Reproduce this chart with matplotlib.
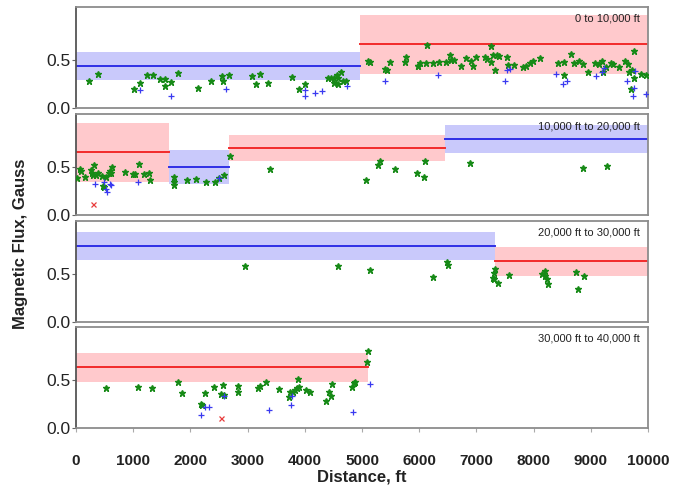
import matplotlib
matplotlib.use("Agg")
import matplotlib.pyplot as plt

# ---------------- data ----------------
panel_titles = ["0 to 10,000 ft", "10,000 ft to 20,000 ft",
                "20,000 ft to 30,000 ft", "30,000 ft to 40,000 ft"]

# segments per panel: (start_ft, end_ft, mean, band_low, band_high, kind)
seg_start = [[0, 4970], [0, 1628, 2668, 6445], [0, 7324], [0]]
seg_end = [[4970, 10000], [1628, 2668, 6445, 10000], [7324, 10000], [5099]]
seg_mean = [[0.438, 0.660], [0.655, 0.500, 0.701, 0.795], [0.790, 0.632], [0.634]]
seg_low = [[0.293, 0.355], [0.345, 0.319, 0.564, 0.650], [0.640, 0.481], [0.478]]
seg_high = [[0.578, 0.970], [0.955, 0.674, 0.829, 0.940], [0.930, 0.781], [0.781]]
seg_kind = [["blue", "red"], ["red", "blue", "red", "blue"], ["blue", "red"], ["red"]]

# green (star) readings
g1_x = [229, 382, 1009, 1124, 1246, 1353, 1460, 1552, 1552, 1659, 1774, 2125, 2355, 2553,
        2576, 2668, 3081, 3150, 3219, 3356, 3777, 3891, 4006, 4404, 4449, 4518, 4564, 4640,
        4511, 4587, 4663, 4717, 4572,
        5107, 5145, 5405, 5481, 5436, 5772, 5757, 5978, 6017, 5986, 6124, 6139, 6246, 6353,
        6460, 6536, 6552, 6613, 6735, 6812, 6903, 6934, 6995, 7156, 7179, 7263, 7263, 7293,
        7324, 7362, 7400, 7538, 7546, 7660, 7806, 7859, 7935, 7997, 8119, 8432, 8524, 8524,
        8662, 8700, 8799, 8861, 8952, 9075, 9136, 9189, 9212, 9258, 9358, 9388, 9495, 9594,
        9648, 9671, 9725, 9747, 9694, 9755, 9870, 9962]
g1_y = [0.276, 0.355, 0.200, 0.259, 0.341, 0.348, 0.303, 0.303, 0.234, 0.269, 0.369, 0.210,
        0.286, 0.338, 0.286, 0.348, 0.328, 0.252, 0.355, 0.259, 0.321, 0.193, 0.245, 0.310,
        0.314, 0.314, 0.348, 0.372, 0.259, 0.252, 0.286, 0.276, 0.310,
        0.486, 0.483, 0.407, 0.483, 0.397, 0.528, 0.476, 0.441, 0.472, 0.438, 0.466, 0.652,
        0.472, 0.479, 0.483, 0.552, 0.497, 0.500, 0.434, 0.524, 0.486, 0.438, 0.528, 0.528,
        0.507, 0.645, 0.483, 0.548, 0.397, 0.555, 0.545, 0.534, 0.445, 0.452, 0.431, 0.434,
        0.472, 0.486, 0.517, 0.466, 0.476, 0.341, 0.562, 0.466, 0.490, 0.459, 0.376, 0.469,
        0.459, 0.493, 0.372, 0.431, 0.472, 0.459, 0.428, 0.486, 0.455, 0.376, 0.390, 0.590,
        0.200, 0.310, 0.355, 0.348]
g2_x = [23, 61, 92, 161, 268, 283, 314, 298, 344, 382, 451, 466, 482, 528, 573, 589, 635, 604,
        864, 994, 1032, 1093, 1185, 1277, 1300,
        1705, 1705, 1720, 1934, 2102, 2271, 2431, 2508, 2592, 2699, 3394, 5069, 5283, 5314,
        5581, 5963, 6078, 6108, 6881, 8868, 9289]
g2_y = [0.383, 0.480, 0.460, 0.399, 0.466, 0.440, 0.523, 0.413, 0.416, 0.433, 0.406, 0.305,
        0.289, 0.399, 0.433, 0.456, 0.500, 0.440, 0.446, 0.423, 0.426, 0.534, 0.426, 0.443,
        0.362,
        0.399, 0.346, 0.315, 0.366, 0.372, 0.342, 0.342, 0.389, 0.416, 0.611, 0.477, 0.362,
        0.520, 0.567, 0.480, 0.440, 0.399, 0.567, 0.540, 0.493, 0.510]
g3_x = [2959, 4587, 5137, 6246, 6491, 6498, 7324, 7301, 7286, 7309, 7377, 7569, 8142, 8195,
        8203, 8234, 8257, 8738, 8769, 8884]
g3_y = [0.581, 0.581, 0.535, 0.468, 0.616, 0.594, 0.545, 0.503, 0.458, 0.445, 0.403, 0.487,
        0.497, 0.529, 0.471, 0.445, 0.390, 0.513, 0.345, 0.474]
g4_x = [520, 1086, 1323, 1781, 1850, 2179, 2194, 2255, 2408, 2531, 2569, 2584, 2836, 2828,
        3173, 3219, 3318, 3547, 3723, 3746, 3799, 3823, 3861, 3876, 3899, 4029, 4090, 4365,
        4426, 4449, 4472, 4832, 4855, 4870, 5099, 5091]
g4_y = [0.418, 0.425, 0.412, 0.477, 0.363, 0.252, 0.239, 0.359, 0.428, 0.350, 0.451, 0.346,
        0.431, 0.373, 0.418, 0.431, 0.474, 0.402, 0.317, 0.376, 0.379, 0.399, 0.412, 0.507,
        0.425, 0.392, 0.373, 0.278, 0.369, 0.333, 0.458, 0.422, 0.471, 0.480, 0.794, 0.686]

# blue (+) readings
b1_x = [1124, 1659, 2622, 4006, 4006, 4182, 4304, 4740, 5397, 6330, 7500, 7538, 7591, 8394,
        8509, 8578, 9098, 9189, 9228, 9633, 9771, 9763, 9740, 9962]
b1_y = [0.183, 0.121, 0.193, 0.183, 0.128, 0.155, 0.176, 0.234, 0.276, 0.348, 0.276, 0.390,
        0.407, 0.355, 0.245, 0.276, 0.328, 0.379, 0.417, 0.286, 0.386, 0.210, 0.124, 0.148]
b2_x = [329, 482, 520, 535, 589, 604, 1086, 2508]
b2_y = [0.326, 0.349, 0.275, 0.238, 0.322, 0.312, 0.349, 0.383]
b3_x = []
b3_y = []
b4_x = [2186, 2255, 2332, 2584, 3371, 3761, 3769, 4847, 5145]
b4_y = [0.131, 0.222, 0.222, 0.337, 0.186, 0.235, 0.333, 0.163, 0.461]

# red (x) readings
r_x = [[], [291], [], [2531]]
r_y = [[], [0.121], [], [0.108]]

green_x = [g1_x, g2_x, g3_x, g4_x]
green_y = [g1_y, g2_y, g3_y, g4_y]
blue_x = [b1_x, b2_x, b3_x, b4_x]
blue_y = [b1_y, b2_y, b3_y, b4_y]

x_ticks = list(range(0, 10001, 1000))
y_ticks = [0.0, 0.5]
y_ticklabels = ["0.0", "0.5"]

# ---------------- style ----------------
plt.rcParams['font.family'] = ['Liberation Sans', 'DejaVu Sans']
band_col = {"blue": "#c9c9fb", "red": "#ffc9cc"}
line_col = {"blue": "#2f2fe6", "red": "#f22a2a"}
frame_col = "#8c8c8c"

fig = plt.figure(figsize=(6.85, 4.87), dpi=100)
left, width = 0.111, 0.835
bottoms = [0.778, 0.558, 0.339, 0.121]
h = 0.208

for i in range(4):
    ax = fig.add_axes([left, bottoms[i], width, h])
    for s, e, m, lo, hi, k in zip(seg_start[i], seg_end[i], seg_mean[i],
                                 seg_low[i], seg_high[i], seg_kind[i]):
        ax.fill_between([s, e], [lo, lo], [hi, hi], color=band_col[k], lw=0, zorder=1)
        ax.plot([s, e], [m, m], color=line_col[k], lw=1.4, zorder=2)
    ax.plot(green_x[i], green_y[i], ls='none', marker='*', ms=4.6,
            color='#178a17', mec='#178a17', zorder=3)
    ax.plot(blue_x[i], blue_y[i], ls='none', marker='+', ms=4, mew=0.9,
            color='#3a3af0', zorder=3)
    ax.plot(r_x[i], r_y[i], ls='none', marker='x', ms=3.6, mew=0.9,
            color='#e83a3a', zorder=3)
    ax.set_xlim(0, 10000)
    ax.set_ylim(0, 1.05)
    ax.set_yticks(y_ticks)
    ax.set_yticklabels(y_ticklabels, fontsize=12.5, color='#222222')
    ax.tick_params(axis='y', length=3, width=0.8, color='#666666', pad=1)
    for sp in ax.spines.values():
        sp.set_color(frame_col)
        sp.set_linewidth(1.3)
    ax.spines['left'].set_color('#555555')
    ax.text(0.985, 0.93, panel_titles[i], transform=ax.transAxes, ha='right',
            va='top', fontsize=8, color='#222222')
    ax.set_xticks(x_ticks)
    if i < 3:
        ax.tick_params(axis='x', length=0, labelbottom=False)
    else:
        ax.set_xticklabels([str(t) for t in x_ticks], fontsize=11,
                           fontweight='bold', color='#222222')
        ax.tick_params(axis='x', length=3, width=0.8, color='#aaaaaa', pad=16)
        ax.set_xlabel("Distance, ft", fontsize=12, fontweight='bold',
                      color='#222222', labelpad=1)

fig.text(0.03, 0.5, "Magnetic Flux, Gauss", rotation=90, ha='center', va='center',
         fontsize=12, fontweight='bold', color='#222222')

fig.savefig("out.png", dpi=100)
